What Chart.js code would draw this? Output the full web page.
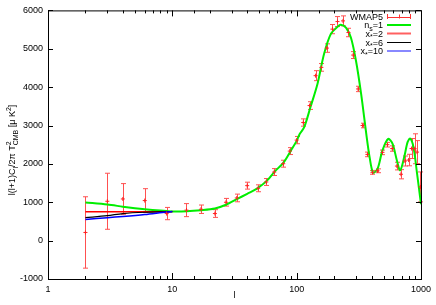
<!DOCTYPE html>
<html>
<head>
<meta charset="utf-8">
<script src="https://cdn.jsdelivr.net/npm/chart.js@4.4.0/dist/chart.umd.min.js"></script>
<style>
html, body { margin: 0; padding: 0; background: #fff; }
#wrap { width: 436px; height: 305px; }
</style>
</head>
<body>
<div id="wrap"><canvas id="c"></canvas></div>
<script>
// WMAP5 binned power spectrum
const wmapL   = [2, 3, 4, 6, 9, 13, 17, 22, 27, 33, 40, 49, 57, 66, 78, 88, 100, 113, 127, 142, 158, 175, 194, 213, 236, 261, 285, 312, 339, 371, 407, 447, 490, 537, 587, 640, 690, 743, 795, 840, 890, 930, 990];
const wmapVal = [213, 1026, 1086, 1044, 705, 795, 818, 706, 1000, 1112, 1433, 1364, 1528, 1787, 2005, 2333, 2620, 3078, 3520, 4299, 4515, 5018, 5512, 5709, 5727, 5424, 4836, 3953, 3000, 2247, 1780, 1820, 2300, 2500, 2400, 1943, 1730, 2075, 2100, 2400, 2394, 2307, 1400];
const wmapErr = [930, 730, 400, 310, 160, 170, 110, 100, 100, 100, 90, 90, 90, 90, 90, 90, 95, 95, 100, 130, 100, 110, 120, 130, 130, 110, 90, 70, 60, 60, 50, 50, 60, 60, 70, 100, 120, 130, 150, 260, 390, 300, 390];

// scale-invariant model, n_s = 1
const thL   = [2, 3, 4, 5, 6, 8, 10, 13, 17, 22, 27, 33, 40, 48, 58, 66, 79, 90, 100, 106, 115, 129, 147, 166, 188, 213, 226, 249, 273, 300, 330, 363, 386, 412, 448, 490, 545, 590, 640, 680, 733, 780, 818, 870, 930, 1000];
const thVal = [995, 940, 885, 845, 818, 785, 762, 766, 792, 836, 935, 1080, 1220, 1356, 1571, 1787, 2047, 2351, 2600, 2784, 2956, 3475, 4083, 4862, 5382, 5571, 5623, 5553, 5294, 4688, 3823, 2784, 2177, 1771, 1875, 2351, 2650, 2525, 2090, 1831, 2177, 2566, 2660, 2437, 1745, 950];

// low-l cut-off models
const cutL  = [2, 3, 4, 6, 9, 10];
const cut2  = [752, 752, 752, 752, 752, 758];
const cut6  = [598, 650, 706, 740, 752, 758];
const cut10 = [550, 598, 628, 680, 748, 758];

const xTickLabels = [1, 10, 100, 1000];

const FONT = 'Liberation Sans, Arial, sans-serif';
Chart.defaults.font.family = FONT;
Chart.defaults.font.size = 9;
Chart.defaults.color = '#000';

const pts = (xs, ys) => xs.map((x, i) => ({ x: x, y: ys[i] }));

// text with sub/superscripts: parts = [text, kind] kind: n, b (sub), p (sup), P (sup, no advance)
function richWidth(ctx, parts, size) {
    let w = 0;
    parts.forEach(([t, k]) => {
        ctx.font = (k === 'n' ? size : size - 2) + 'px ' + FONT;
        if (k !== 'P') w += ctx.measureText(t).width;
    });
    return w;
}
function richDraw(ctx, parts, x, y, size) {
    parts.forEach(([t, k]) => {
        ctx.font = (k === 'n' ? size : size - 2) + 'px ' + FONT;
        let dy = k === 'b' ? 2.5 : (k === 'n' ? 0 : -4);
        ctx.fillText(t, x, y + dy);
        if (k !== 'P') x += ctx.measureText(t).width;
    });
}

const legendRows = [
    { parts: [['WMAP5', 'n']], color: '#ff3030', err: true },
    { parts: [['n', 'n'], ['s', 'b'], ['=1', 'n']], color: '#00ee00', w: 2 },
    { parts: [['x', 'n'], ['*', 'b'], ['=2', 'n']], color: '#ff6060', w: 2 },
    { parts: [['x', 'n'], ['*', 'b'], ['=6', 'n']], color: '#000000', w: 1 },
    { parts: [['x', 'n'], ['*', 'b'], ['=10', 'n']], color: '#8888ff', w: 2 }
];

const decor = {
    id: 'decor',
    beforeDatasetsDraw(chart) {
        // error bars
        const ctx = chart.ctx, xs = chart.scales.x, ys = chart.scales.y;
        ctx.save();
        ctx.strokeStyle = '#ff5050';
        ctx.lineWidth = 1;
        wmapL.forEach((l, i) => {
            const px = Math.round(xs.getPixelForValue(l)) + 0.5;
            const top = ys.getPixelForValue(wmapVal[i] + wmapErr[i]);
            const bot = ys.getPixelForValue(wmapVal[i] - wmapErr[i]);
            ctx.beginPath();
            ctx.moveTo(px, top); ctx.lineTo(px, bot);
            ctx.moveTo(px - 2.5, top); ctx.lineTo(px + 2.5, top);
            ctx.moveTo(px - 2.5, bot); ctx.lineTo(px + 2.5, bot);
            ctx.stroke();
        });
        ctx.restore();
    },
    afterDraw(chart) {
        const ctx = chart.ctx, a = chart.chartArea;
        const xs = chart.scales.x, ys = chart.scales.y;
        ctx.save();
        // frame
        ctx.strokeStyle = '#000';
        ctx.lineWidth = 1;
        ctx.strokeRect(a.left + 0.5, a.top + 0.5, a.right - a.left, a.bottom - a.top);
        // ticks (inward, mirrored)
        ctx.beginPath();
        ys.ticks.forEach(t => {
            const py = Math.round(ys.getPixelForValue(t.value)) + 0.5;
            ctx.moveTo(a.left, py); ctx.lineTo(a.left + 5, py);
            ctx.moveTo(a.right, py); ctx.lineTo(a.right - 5, py);
        });
        xs.ticks.forEach(t => {
            const major = xTickLabels.includes(t.value);
            const len = major ? 6 : 3;
            const px = Math.round(xs.getPixelForValue(t.value)) + 0.5;
            ctx.moveTo(px, a.bottom); ctx.lineTo(px, a.bottom - len);
            ctx.moveTo(px, a.top); ctx.lineTo(px, a.top + len);
        });
        ctx.stroke();

        // y title
        ctx.fillStyle = '#000';
        ctx.textBaseline = 'alphabetic';
        ctx.textAlign = 'left';
        const yTitle = [['l(l+1)C', 'n'], ['l', 'b'], ['/2\u03c0 T', 'n'], ['2', 'P'], ['CMB', 'b'], [' [\u03bc K', 'n'], ['2', 'p'], [']', 'n']];
        const tw = richWidth(ctx, yTitle, 9);
        ctx.save();
        ctx.translate(15, 150);
        ctx.rotate(-Math.PI / 2);
        richDraw(ctx, yTitle, -tw / 2, 0, 9);
        ctx.restore();

        // x title
        ctx.font = '9px ' + FONT;
        ctx.textAlign = 'center';
        ctx.fillText('l', (a.left + a.right) / 2, 298);
        ctx.textAlign = 'left';

        // legend
        const rowY = [16.5, 25, 33.5, 42.5, 51];
        legendRows.forEach((r, i) => {
            const y = rowY[i];
            const w = richWidth(ctx, r.parts, 9);
            richDraw(ctx, r.parts, 383 - w, y + 3, 9);
            ctx.strokeStyle = r.color;
            ctx.beginPath();
            if (r.err) {
                ctx.lineWidth = 1;
                ctx.moveTo(387, Math.round(y) + 0.5); ctx.lineTo(411, Math.round(y) + 0.5);
                ctx.moveTo(387.5, y - 2.5); ctx.lineTo(387.5, y + 2.5);
                ctx.moveTo(410.5, y - 2.5); ctx.lineTo(410.5, y + 2.5);
                ctx.moveTo(399.5, y - 2); ctx.lineTo(399.5, y + 2);
            } else {
                ctx.lineWidth = r.w;
                ctx.moveTo(387, y); ctx.lineTo(411, y);
            }
            ctx.stroke();
        });
        ctx.restore();
    }
};

const lineDs = (label, xs, ys, color, width) => ({
    label: label,
    data: pts(xs, ys),
    borderColor: color,
    backgroundColor: color,
    borderWidth: width,
    pointRadius: 0,
    tension: 0.3,
    fill: false
});

new Chart(document.getElementById('c'), {
    type: 'line',
    data: {
        datasets: [
            {
                label: 'WMAP5',
                data: pts(wmapL, wmapVal),
                showLine: false,
                pointStyle: 'cross',
                pointRadius: 2,
                borderColor: '#ff2020',
                borderWidth: 1,
                order: 1
            },
            Object.assign(lineDs('x*=10', cutL, cut10, '#0000ff', 1.5), { order: 2 }),
            Object.assign(lineDs('x*=6', cutL, cut6, '#000000', 1.2), { order: 3 }),
            Object.assign(lineDs('x*=2', cutL, cut2, '#ff0000', 1.5), { order: 4 }),
            Object.assign(lineDs('ns=1', thL, thVal, '#00ee00', 2), { order: 5 })
        ]
    },
    options: {
        responsive: true,
        maintainAspectRatio: false,
        animation: false,
        layout: { padding: { top: 9, right: 15, left: 0, bottom: 0 } },
        plugins: {
            legend: { display: false },
            tooltip: { enabled: false }
        },
        scales: {
            x: {
                type: 'logarithmic',
                min: 1,
                max: 1000,
                afterFit: s => { s.height = 26; },
                grid: { display: false, drawTicks: false },
                border: { display: false },
                ticks: {
                    autoSkip: false,
                    maxRotation: 0,
                    padding: 5,
                    callback: v => xTickLabels.includes(v) ? String(v) : ''
                }
            },
            y: {
                min: -1000,
                max: 6000,
                afterFit: s => { s.width = 48; },
                grid: { display: false, drawTicks: false },
                border: { display: false },
                ticks: { stepSize: 1000, padding: 5, callback: v => String(v) }
            }
        }
    },
    plugins: [decor]
});
</script>
</body>
</html>
